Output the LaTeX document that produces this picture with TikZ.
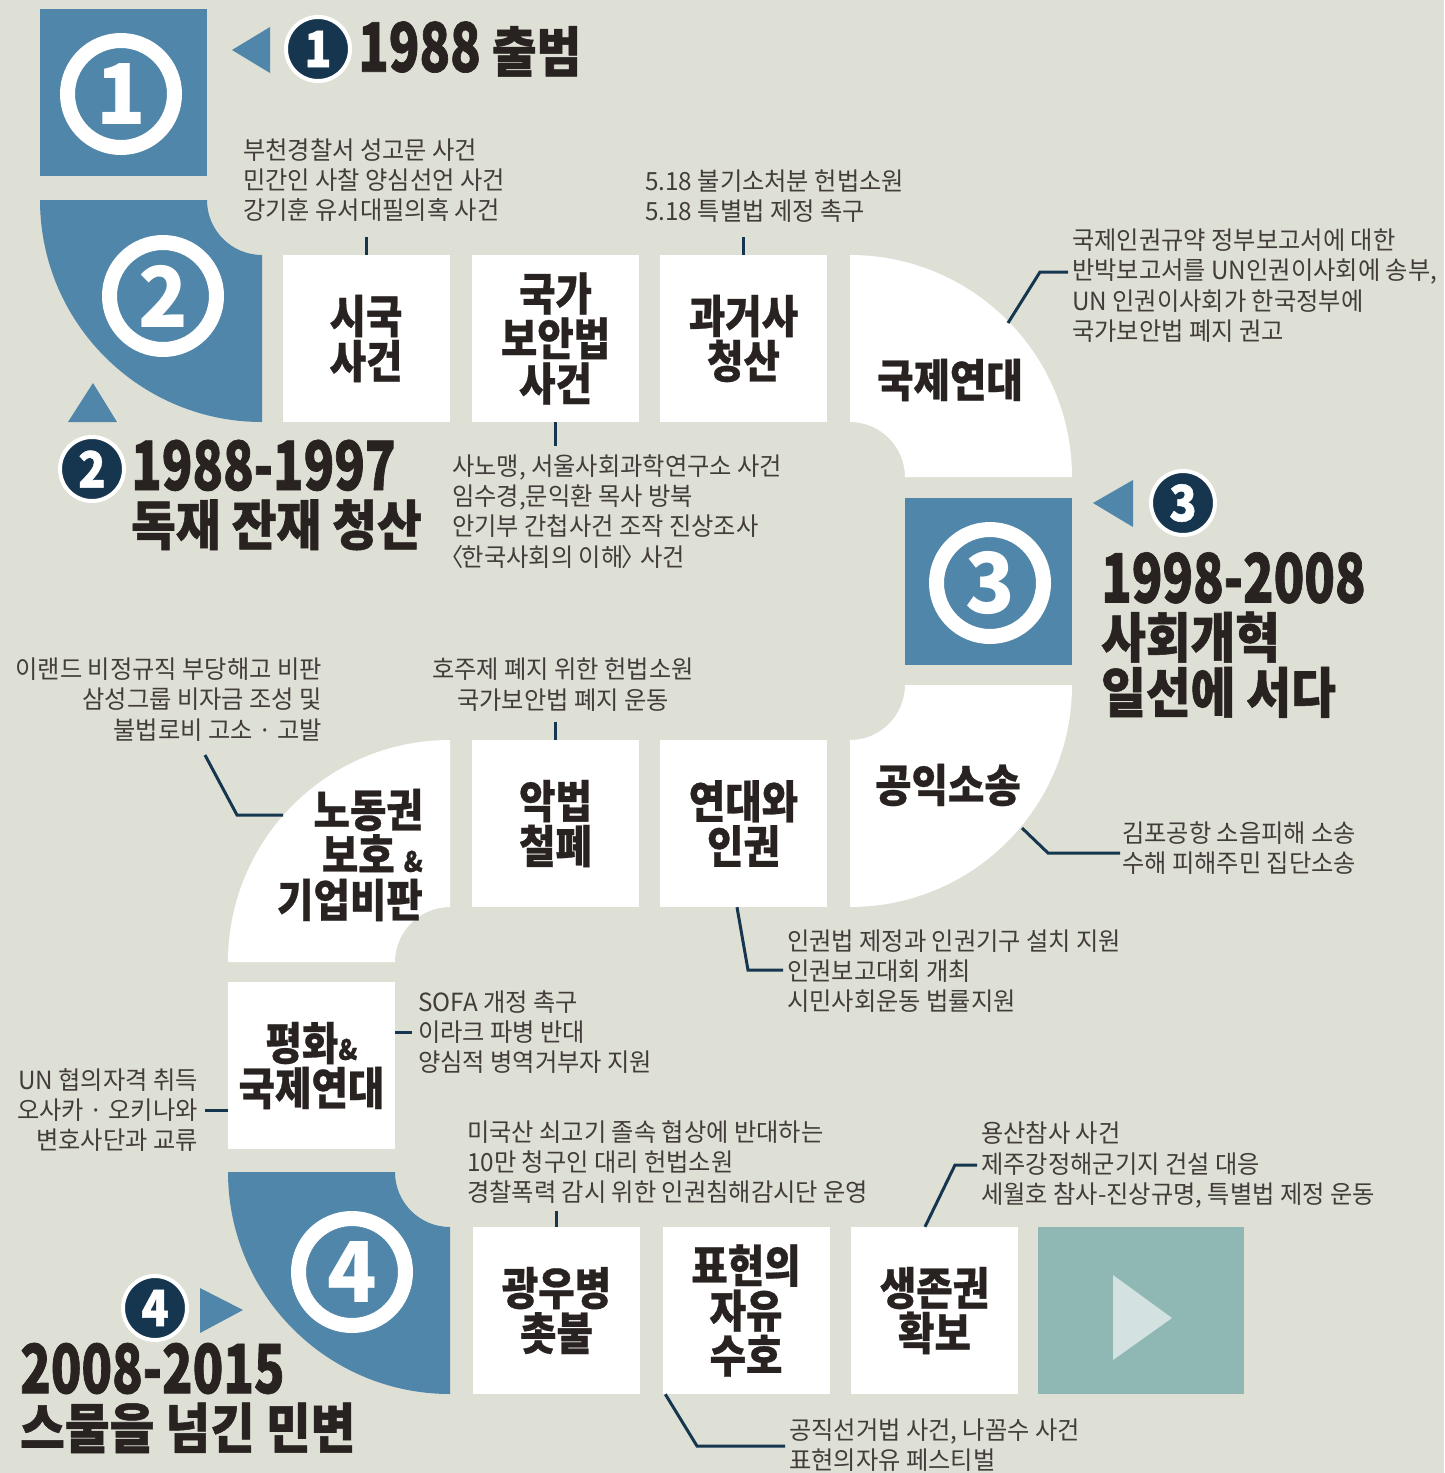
\documentclass[tikz,border=0pt]{standalone}
\usepackage{fontspec}
\setmainfont{Noto Sans CJK KR}
\newfontfamily\notefont{Noto Sans CJK KR}[FakeStretch=0.97]
\newfontfamily\boxfont{Noto Sans CJK KR}[FakeStretch=0.88,FakeBold=0.6]
\newfontfamily\headfont{Noto Sans CJK KR}[FakeStretch=0.9,FakeBold=1]
\newfontfamily\yearfont{Noto Sans CJK KR}[FakeStretch=0.74,FakeBold=1]
\newcommand\yearnum[1]{{\yearfont\bfseries\fontsize{68}{68}\selectfont #1}}
\definecolor{paper}{RGB}{223,224,213}
\definecolor{steel}{RGB}{79,134,170}
\definecolor{navy}{RGB}{22,54,80}
\definecolor{ink}{RGB}{40,35,33}
\definecolor{memo}{RGB}{66,61,58}
\definecolor{sea}{RGB}{143,184,180}
\definecolor{foam}{RGB}{211,226,224}

\begin{document}
\begin{tikzpicture}[x=1pt,y=-1pt,
  stepbox/.style={fill=steel,minimum size=167pt,inner sep=0pt},
  box/.style={fill=white,minimum width=167pt,minimum height=167pt,inner sep=0pt,align=center,text=ink,
    font=\boxfont\bfseries\fontsize{45}{45}\selectfont},
  turntext/.style={inner sep=0pt,align=center,text=ink,font=\boxfont\bfseries\fontsize{45}{45}\selectfont},
  ring/.style={circle,draw=white,line width=15pt,minimum size=107pt,inner sep=0pt,text=white,
    font=\notefont\bfseries\fontsize{84}{84}\selectfont},
  badge/.style={circle,fill=navy,draw=white,line width=4pt,minimum size=64pt,inner sep=0pt,text=white,
    font=\headfont\bfseries\fontsize{50}{50}\selectfont},
  head/.style={anchor=west,inner sep=0pt,align=left,text=ink,font=\headfont\bfseries\fontsize{54}{55}\selectfont},
  note/.style={inner sep=0pt,align=left,text=memo,font=\notefont\fontsize{25}{30.3}\selectfont},
  lead/.style={draw=navy,line width=3pt},
  pointer/.style={fill=steel}]
\useasboundingbox (0,0) rectangle (1444,1473);
\fill[paper] (0,0) rectangle (1444,1473);

% turning pieces of the road
\fill[steel] (262,255) -- (262,422) arc[start angle=90,end angle=180,radius=222] -- (207,200) arc[start angle=180,end angle=90,radius=55] -- cycle;
\fill[white] (850,422) -- (850,255) arc[start angle=270,end angle=360,radius=222] -- (905,477) arc[start angle=360,end angle=270,radius=55] -- cycle;
\fill[white] (905,685) -- (1072,685) arc[start angle=0,end angle=90,radius=222] -- (850,740) arc[start angle=90,end angle=0,radius=55] -- cycle;
\fill[white] (395,962) -- (228,962) arc[start angle=180,end angle=270,radius=222] -- (450,907) arc[start angle=270,end angle=180,radius=55] -- cycle;
\fill[steel] (450,1227) -- (450,1394) arc[start angle=90,end angle=180,radius=222] -- (395,1172) arc[start angle=180,end angle=90,radius=55] -- cycle;

\node[stepbox] (stage1) at (123.5,92.5) {};
\node[stepbox] (stage3) at (988.5,581) {};

\node[ring] (ring1) at (121,94) {1};
\node[ring] (ring2) at (163,296) {2};
\node[ring] (ring3) at (990,583) {3};
\node[ring] (ring4) at (352,1272) {4};

% row 1
\node[box] (sigook) at (366,338.5) {시국\\사건};
\node[box] (gukga) at (555.5,338.5) {국가\\보안법\\사건};
\node[box] (gwageo) at (743.5,338.5) {과거사\\청산};
\node[turntext] (gukje) at (950,380) {국제연대};
% row 2
\node[turntext] (gongik) at (948,785) {공익소송};
\node[box] (yeondae) at (743.5,823.5) {연대와\\인권};
\node[box] (akbeop) at (555.5,823.5) {악법\\철폐};
\node[turntext,align=right,anchor=east] (nodong) at (423,855) {노동권\\보호 {\fontsize{28}{28}\selectfont\&}\\기업비판};
\node[box] (pyeonghwa) at (311.5,1065.5) {평화{\fontsize{28}{28}\selectfont\&}\\국제연대};
% row 3
\node[box] (gwangu) at (556.5,1310.5) {광우병\\촛불};
\node[box] (pyohyeon) at (746,1310.5) {표현의\\자유\\수호};
\node[box] (saengjon) at (934.5,1310.5) {생존권\\확보};
\node[box,fill=sea,minimum width=206pt] (play) at (1141,1310.5) {};
\fill[foam] (1172,1318) -- (1113,1275) -- (1113,1360) -- cycle;

% stage titles
\node[badge] (num1) at (318,49) {1};
\fill[pointer] (232,50) -- (270,27) -- (270,73) -- cycle;
\node[head] (title1) at (358,49) {\yearnum{1988} 출범};

\node[badge] (num2) at (92,469) {2};
\fill[pointer] (93,383) -- (117,422) -- (68,422) -- cycle;
\node[head] (title2) at (131,495) {\yearnum{1988-1997}\\독재 잔재 청산};

\node[badge] (num3) at (1183,503) {3};
\fill[pointer] (1093,503) -- (1133,480) -- (1133,527) -- cycle;
\node[head] (title3) at (1101,635) {\yearnum{1998-2008}\\사회개혁\\일선에 서다};

\node[badge] (num4) at (155,1308) {4};
\fill[pointer] (243,1310) -- (200,1288) -- (200,1333) -- cycle;
\node[head] (title4) at (20,1398) {\yearnum{2008-2015}\\스물을 넘긴 민변};

% notes
\node[note,anchor=west] (note-sigook) at (243,180) {부천경찰서 성고문 사건\\민간인 사찰 양심선언 사건\\강기훈 유서대필의혹 사건};
\node[note,anchor=west] (note-gwageo) at (645,196) {5.18 불기소처분 헌법소원\\5.18 특별법 제정 촉구};
\node[note,anchor=west] (note-gukje) at (1072,285.5) {국제인권규약 정부보고서에 대한\\반박보고서를 UN인권이사회에 송부,\\UN 인권이사회가 한국정부에\\국가보안법 폐지 권고};
\node[note,anchor=west] (note-gukga) at (452,511.5) {사노맹, 서울사회과학연구소 사건\\임수경,문익환 목사 방북\\안기부 간첩사건 조작 진상조사\\\kern-0.5em〈\kern-0.08em 한국사회의 이해\kern-0.08em〉\kern-0.45em\ 사건};
\node[note,align=center] (note-akbeop) at (563,684.5) {호주제 폐지 위한 헌법소원\\국가보안법 폐지 운동};
\node[note,align=right,anchor=east] (note-nodong) at (322,699.5) {이랜드 비정규직 부당해고 비판\\삼성그룹 비자금 조성 및\\불법로비 고소 · 고발};
\node[note,anchor=west] (note-gongik) at (1122,848) {김포공항 소음피해 소송\\수해 피해주민 집단소송};
\node[note,anchor=west] (note-yeondae) at (787,971) {인권법 제정과 인권기구 설치 지원\\인권보고대회 개최\\시민사회운동 법률지원};
\node[note,anchor=west] (note-peace) at (418,1032) {SOFA 개정 촉구\\이라크 파병 반대\\양심적 병역거부자 지원};
\node[note,align=right,anchor=east] (note-un) at (198,1110) {UN 협의자격 취득\\오사카 · 오키나와\\변호사단과 교류};
\node[note,anchor=west] (note-gwangu) at (467,1162) {미국산 쇠고기 졸속 협상에 반대하는\\10만 청구인 대리 헌법소원\\경찰폭력 감시 위한 인권침해감시단 운영};
\node[note,anchor=west] (note-saengjon) at (981,1165) {용산참사 사건\\제주강정해군기지 건설 대응\\세월호 참사-진상규명, 특별법 제정 운동};
\node[note,anchor=west] (note-pyohyeon) at (789,1445) {공직선거법 사건, 나꼼수 사건\\표현의자유 페스티벌};

% leader lines
\coordinate (sigook-tip) at (366,237);
\coordinate (gwageo-tip) at (743.5,237);
\coordinate (gukga-tip) at (555.5,446);
\coordinate (akbeop-tip) at (555.5,722);
\coordinate (gwangu-tip) at (556.5,1211);
\coordinate (gukje-edge) at (1008,323);
\coordinate (gukje-bend) at (1040,272);
\coordinate (gukje-tip) at (1068,272);
\coordinate (gongik-edge) at (1022,828);
\coordinate (gongik-bend) at (1048,853);
\coordinate (gongik-tip) at (1120,853);
\coordinate (nodong-edge) at (283,815);
\coordinate (nodong-bend) at (237,815);
\coordinate (nodong-tip) at (205,755);
\coordinate (yeondae-bend) at (748,970);
\coordinate (yeondae-tip) at (783,970);
\coordinate (peace-tip) at (412,1032);
\coordinate (un-tip) at (205,1110);
\coordinate (saengjon-bend) at (955,1165);
\coordinate (saengjon-tip) at (977,1165);
\coordinate (pyohyeon-bend) at (697,1446);
\coordinate (pyohyeon-tip) at (785,1446);

\draw[lead] (sigook.north) -- (sigook-tip);
\draw[lead] (gwageo.north) -- (gwageo-tip);
\draw[lead] (gukga.south) -- (gukga-tip);
\draw[lead] (akbeop.north) -- (akbeop-tip);
\draw[lead] (gwangu.north) -- (gwangu-tip);
\draw[lead] (gukje-edge) -- (gukje-bend) -- (gukje-tip);
\draw[lead] (gongik-edge) -- (gongik-bend) -- (gongik-tip);
\draw[lead] (nodong-edge) -- (nodong-bend) -- (nodong-tip);
\draw[lead] ([xshift=-6.5pt]yeondae.south) -- (yeondae-bend) -- (yeondae-tip);
\draw[lead] (pyeonghwa.east |- peace-tip) -- (peace-tip);
\draw[lead] (pyeonghwa.west |- un-tip) -- (un-tip);
\draw[lead] ([xshift=-9.5pt]saengjon.north) -- (saengjon-bend) -- (saengjon-tip);
\draw[lead] ([xshift=3pt]pyohyeon.south west) -- (pyohyeon-bend) -- (pyohyeon-tip);
\end{tikzpicture}
\end{document}
